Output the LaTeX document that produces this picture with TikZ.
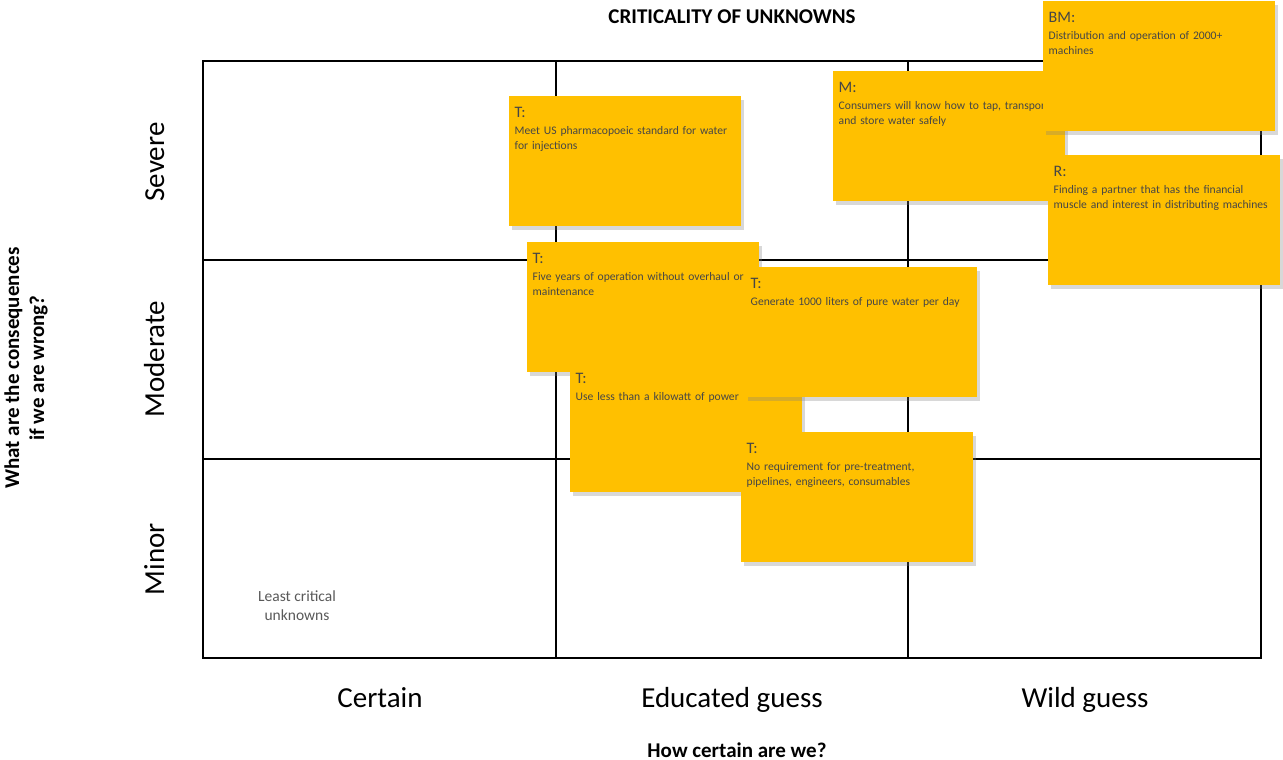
\documentclass[tikz,border=0pt]{standalone}
\usepackage{fontspec}
\setmainfont{Carlito}
\usetikzlibrary{shadows}
\definecolor{notecol}{RGB}{255,192,0}
\definecolor{notetext}{RGB}{70,70,70}
\definecolor{leastcol}{RGB}{89,89,89}
\tikzset{
    note/.style={fill=notecol,anchor=north west,inner xsep=5.5pt,inner ysep=5pt,text width=221pt,text height=16pt,text depth=104pt,
        align=left,text=notetext,font=\fontsize{11.6}{15}\selectfont,
        drop shadow={shadow xshift=3pt,shadow yshift=-4pt,opacity=.3}},
    rowlab/.style={rotate=90,anchor=base,font=\fontsize{29}{29}\selectfont},
    collab/.style={anchor=base,font=\fontsize{29}{29}\selectfont},
    axlab/.style={font=\bfseries\fontsize{21}{25}\selectfont}
}
\newcommand{\hd}[1]{{\fontsize{16}{16}\selectfont #1}\\[2pt]}
\begin{document}
\begin{tikzpicture}[x=1pt,y=-1pt]
        \useasboundingbox[fill=white] (0,0) rectangle (1283,760);
        \begin{scope}[line width=2pt]
            \draw (203,61) rectangle (1261,658);
            \draw (556,61)--(556,658) (908,61)--(908,658);
            \draw (203,260)--(1261,260) (203,459)--(1261,459);
        \end{scope}
        \node[axlab,anchor=base] (title) at (732,24) {CRITICALITY OF UNKNOWNS};
        \node[axlab,anchor=base] (xlab) at (737,757) {How certain are we?};
        \node[axlab,rotate=90,align=center] (ylab) at (26,368) {What are the consequences\\if we are wrong?};
        \node[rowlab] (severe) at (164,162) {Severe};
        \node[rowlab] (moderate) at (164,359) {Moderate};
        \node[rowlab] (minor) at (164,559) {Minor};
        \node[collab] (certain) at (380,707) {Certain};
        \node[collab] (educated) at (732,707) {Educated guess};
        \node[collab] (wild) at (1085,707) {Wild guess};
        \node[align=center,text=leastcol,font=\fontsize{15.5}{19}\selectfont] (least) at (297,606) {Least critical\\unknowns};
        \node[note] (m) at (833,71) {\hd{M:}Consumers will know how to tap, transport\\and store water safely};
        \node[note] (bm) at (1043,1) {\hd{BM:}Distribution and operation of 2000+\\machines};
        \node[note] (r) at (1048,155) {\hd{R:}Finding a partner that has the financial\\muscle and interest in distributing machines};
        \node[note] (t1) at (509,96) {\hd{T:}Meet US pharmacopoeic standard for water\\for injections};
        \node[note] (t2) at (527,242) {\hd{T:}Five years of operation without overhaul or\\maintenance};
        \node[note] (t4) at (570,362) {\hd{T:}Use less than a kilowatt of power};
        \node[note] (t3) at (745,267) {\hd{T:}Generate 1000 liters of pure water per day};
        \node[note] (t5) at (741,432) {\hd{T:}No requirement for pre-treatment,\\pipelines, engineers, consumables};
\end{tikzpicture}
\end{document}
